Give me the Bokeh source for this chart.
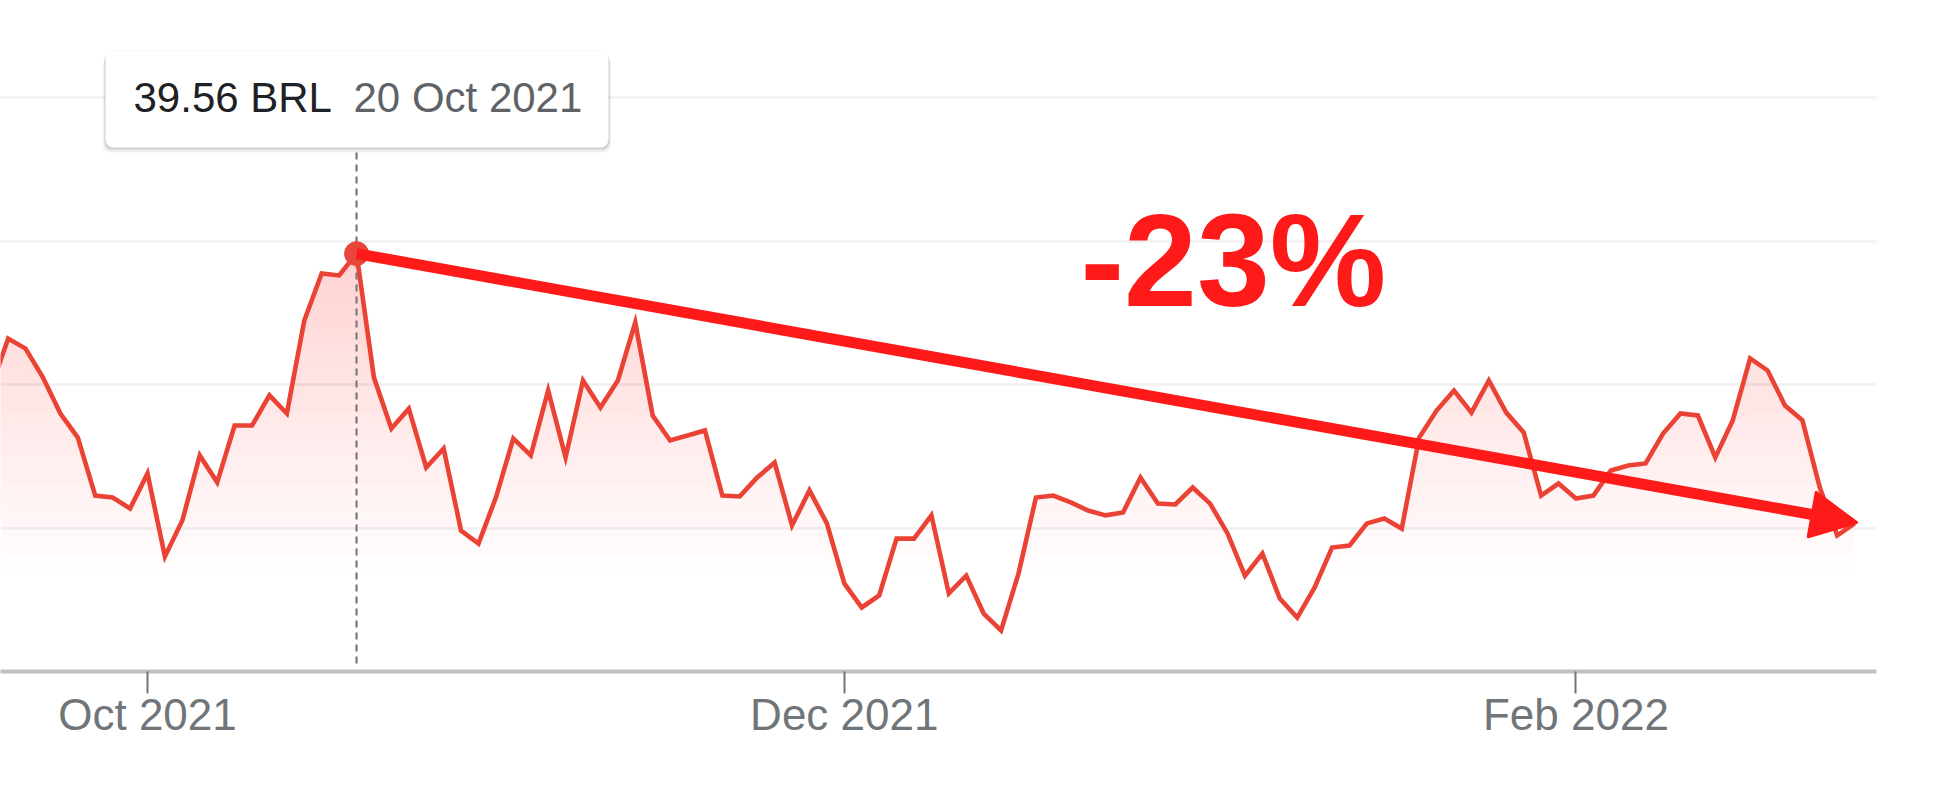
import numpy as np
from bokeh.plotting import figure
from bokeh.models import Range1d, FixedTicker, Grid, Label, Arrow, NormalHead, BoxAnnotation
from bokeh.embed import file_html
from bokeh.resources import INLINE

# ---- data: trading-day index (0 = 1 Oct 2021) and closing price in BRL ----
day_index = list(range(-9, 99))
price = [
    34.86, 36.60, 36.25, 35.24, 33.99, 33.15, 31.13, 31.06, 30.68,   # -9..-1
    31.90, 29.01, 30.26, 32.53, 31.59, 33.57, 33.57, 34.62, 33.99, 37.23,  # 0..9
    38.87, 38.80, 39.56, 35.24, 33.47, 34.16, 32.11, 32.77, 29.91, 29.46,  # 10..19
    31.06, 33.12, 32.53, 34.79, 32.46, 35.14, 34.20, 35.14, 37.16, 33.92,  # 20..29
    33.05, 33.22, 33.40, 31.13, 31.10, 31.76, 32.28, 30.09, 31.31, 30.16,  # 30..39
    28.07, 27.23, 27.65, 29.63, 29.63, 30.44, 27.72, 28.34, 27.02, 26.43,  # 40..49
    28.41, 31.06, 31.13, 30.89, 30.61, 30.44, 30.54, 31.76, 30.85, 30.82,  # 50..59
    31.41, 30.85, 29.81, 28.34, 29.11, 27.54, 26.88, 27.93, 29.32, 29.39,  # 60..69
    30.16, 30.33, 29.98, 33.15, 34.09, 34.79, 34.02, 35.14, 34.02, 33.33,  # 70..79
    31.13, 31.55, 31.03, 31.13, 32.00, 32.18, 32.25, 33.29, 33.99, 33.92,  # 80..89
    32.46, 33.75, 35.91, 35.49, 34.27, 33.75, 31.41, 29.74, 30.16,         # 90..98
]
tick_index = [0, 40, 82]
tick_labels = ["Oct 2021", "Dec 2021", "Feb 2022"]
grid_values = [30, 35, 40, 45]
tooltip_date = "20 Oct 2021"
change_text = "-23%"

RED_LINE = "#ea4335"
RED_FILL = "#e53b3b"
RED_ANN = "#ff1a1a"
GRAY = "#70757a"
FONT = "Liberation Sans"

# pixel helpers (image coords -> data coords), used for annotation placement only
def X(px):
    return (px - 147) / 17.42

def Y(py):
    return 25 + (671 - py) / 28.7

p = figure(frame_width=1876, frame_height=671,
           x_range=Range1d(X(0), X(1876)), y_range=Range1d(Y(671), Y(0)),
           output_backend="svg", toolbar_location=None, y_axis_location=None,
           min_border_left=0, min_border_top=0, min_border_right=51, min_border_bottom=119,
           background_fill_color="white", border_fill_color="white")
p.outline_line_color = None
p.xgrid.visible = False
p.ygrid.visible = False
p.add_layout(Grid(dimension=1, ticker=FixedTicker(ticks=grid_values),
                  grid_line_color="#f1f1f1", grid_line_width=2.5))

x = np.array(day_index, dtype=float)
y = np.array(price, dtype=float)

# soft vertical gradient under the line
for lev in np.arange(28.5, 40.0, 0.5):
    p.varea(x=x, y1=np.minimum(y, lev), y2=y, fill_color=RED_FILL, fill_alpha=0.0072)

peak_i = int(np.argmax(y))
px_, py_ = x[peak_i], y[peak_i]

p.segment(x0=[px_], y0=[Y(152)], x1=[px_], y1=[Y(668)], line_color="#7a7a7a",
          line_width=2.2, line_dash="7 5")
p.line(x, y, line_color=RED_LINE, line_width=4.6, line_join="miter")
p.scatter([px_], [py_], size=24, color="#e8453c")

# arrow
p.add_layout(Arrow(end=NormalHead(size=45, fill_color=RED_ANN, line_color=RED_ANN,
                                  line_width=3, line_join="round"),
                   x_start=px_, y_start=py_, x_end=X(1856), y_end=Y(522),
                   line_color=RED_ANN, line_width=11))

p.add_layout(Label(x=X(1080), y=Y(260), text=change_text, text_font=FONT,
                   text_font_style="bold", text_font_size="131px", text_color=RED_ANN,
                   text_baseline="alphabetic", text_align="left"))

# tooltip box
for off, a in [(5, 0.05), (3, 0.07), (1.5, 0.08)]:
    p.add_layout(BoxAnnotation(left=X(105 - off / 2), right=X(608 + off / 2), top=Y(50 + off),
                               bottom=Y(147 + off), fill_color="#000000", fill_alpha=a,
                               line_color=None, border_radius=8))
p.add_layout(BoxAnnotation(left=X(105), right=X(608), top=Y(50), bottom=Y(147),
                           fill_color="white", fill_alpha=1.0, line_color="#ececec",
                           line_width=1, border_radius=8))
p.add_layout(Label(x=X(133), y=Y(96.5), text=f"{py_:.2f} BRL", text_font=FONT,
                   text_font_size="42px", text_color="#202124", text_baseline="alphabetic"))
p.add_layout(Label(x=X(353), y=Y(96.5), text=tooltip_date, text_font=FONT,
                   text_font_size="42px", text_color="#5f6368", text_baseline="alphabetic"))

ax = p.xaxis[0]
ax.ticker = FixedTicker(ticks=tick_index)
ax.major_label_overrides = {k: v for k, v in zip(tick_index, tick_labels)}
ax.axis_line_color = "#bdc1c6"
ax.axis_line_width = 4
ax.major_tick_line_color = GRAY
ax.major_tick_line_width = 2
ax.major_tick_in = 0
ax.major_tick_out = 22
ax.minor_tick_line_color = None
ax.major_label_text_font = FONT
ax.major_label_text_font_size = "44px"
ax.major_label_text_color = GRAY
ax.major_label_standoff = -4

open("out.html", "w").write(file_html(p, INLINE))
